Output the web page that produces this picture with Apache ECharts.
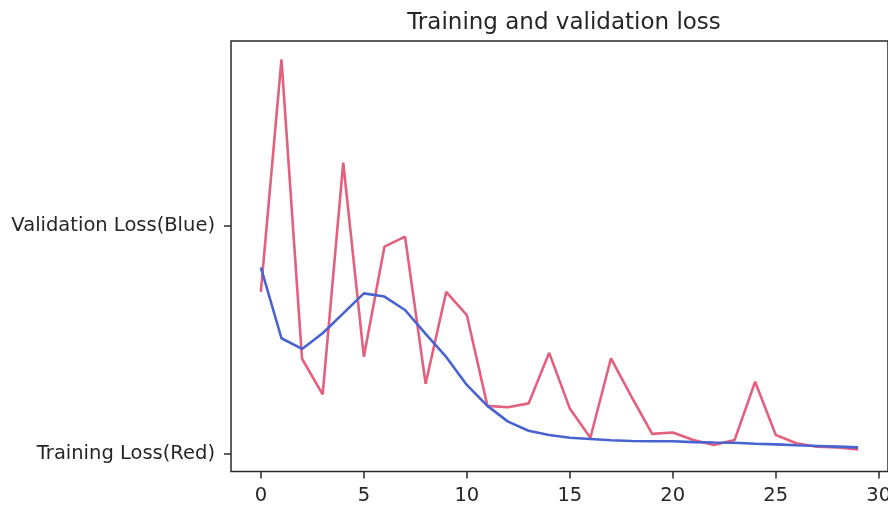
<!DOCTYPE html>
<html>
<head>
<meta charset="utf-8">
<script src="https://cdn.jsdelivr.net/npm/echarts@6/dist/echarts.min.js"></script>
<style>
html,body{margin:0;padding:0;background:#fff;}
#chart{width:888px;height:506px;}
</style>
</head>
<body>
<div id="chart"></div>
<script>
const epochs = [0,1,2,3,4,5,6,7,8,9,10,11,12,13,14,15,16,17,18,19,20,21,22,23,24,25,26,27,28,29];
const redSeries = [0.710,1.730,0.416,0.260,1.277,0.425,0.908,0.952,0.306,0.710,0.608,0.209,0.203,0.220,0.442,0.198,0.069,0.418,0.249,0.086,0.092,0.059,0.037,0.059,0.315,0.081,0.045,0.030,0.027,0.018];
const blueSeries = [0.817,0.506,0.459,0.528,0.615,0.703,0.689,0.630,0.525,0.424,0.301,0.209,0.140,0.100,0.081,0.069,0.064,0.058,0.055,0.054,0.054,0.050,0.048,0.047,0.043,0.040,0.036,0.033,0.030,0.027];
const xTicks = [0,5,10,15,20,25,30];
const yTickValues = [0,1];
const yTickLabels = ['Training Loss(Red)','Validation Loss(Blue)'];
const titleText = 'Training and validation loss';

const chart = echarts.init(document.getElementById('chart'), null, {renderer:'canvas'});
const font = 'DejaVu Sans';
chart.setOption({
  animation:false,
  backgroundColor:'#fff',
  title:{
    text:titleText,
    left:559, top:7, textAlign:'center',
    textStyle:{fontFamily:font,fontSize:23,fontWeight:'normal',color:'#262626'}
  },
  grid:{
    left:231, right:0, top:41, bottom:34.5,
    outerBoundsMode:'none', containLabel:false,
    show:true, borderColor:'#2a2a2a', borderWidth:1.5, backgroundColor:'transparent'
  },
  xAxis:{
    type:'value', min:-1.45, max:30.45,
    splitLine:{show:false},
    axisLine:{show:false, onZero:false},
    axisTick:{show:true, inside:false, length:7, customValues:xTicks, lineStyle:{color:'#2a2a2a',width:1.5}},
    axisLabel:{show:true, customValues:xTicks, margin:14, fontFamily:font, fontSize:19.5, color:'#262626', showMinLabel:true, showMaxLabel:true}
  },
  yAxis:{
    type:'value', min:-0.079, max:1.811,
    splitLine:{show:false},
    axisLine:{show:false, onZero:false},
    axisTick:{show:true, inside:false, length:7, customValues:yTickValues, lineStyle:{color:'#2a2a2a',width:1.5}},
    axisLabel:{show:true, customValues:yTickValues, margin:16, fontFamily:font, fontSize:19.5, color:'#262626',
      formatter:function(v){const i=yTickValues.indexOf(v);return i>=0?yTickLabels[i]:'';}}
  },
  series:[
    {type:'line', name:'Training', data:epochs.map((e,i)=>[e,redSeries[i]]), showSymbol:false, symbol:'none',
     lineStyle:{color:'#e3607e', width:2.6}, itemStyle:{color:'#e3607e'}},
    {type:'line', name:'Validation', data:epochs.map((e,i)=>[e,blueSeries[i]]), showSymbol:false, symbol:'none',
     lineStyle:{color:'#4862cf', width:2.6}, itemStyle:{color:'#4862cf'}}
  ]
});
</script>
</body>
</html>
